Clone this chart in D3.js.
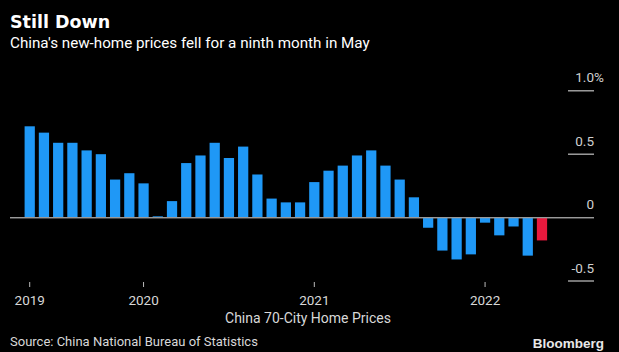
<!DOCTYPE html>
<html>
<head>
  <meta charset="utf-8" />
  <title>Still Down</title>
  <style type="text/css">
  body {
    margin: 0;
    background: #000;
  }
  svg text {
    font-family: 'Roboto', sans-serif;
  }
  </style>
</head>
<body>

  <div id="graph"></div>

  <script src="https://cdn.jsdelivr.net/npm/d3@7"></script>
  <script>
// monthly change in new-home prices, May 2019 - May 2022
var months = [
  "2019-05", "2019-06", "2019-07", "2019-08", "2019-09", "2019-10", "2019-11", "2019-12",
  "2020-01", "2020-02", "2020-03", "2020-04", "2020-05", "2020-06", "2020-07", "2020-08",
  "2020-09", "2020-10", "2020-11", "2020-12",
  "2021-01", "2021-02", "2021-03", "2021-04", "2021-05", "2021-06", "2021-07", "2021-08",
  "2021-09", "2021-10", "2021-11", "2021-12",
  "2022-01", "2022-02", "2022-03", "2022-04", "2022-05"
];
var values = [
  0.72, 0.67, 0.59, 0.59, 0.53, 0.50, 0.30, 0.35,
  0.27, 0.01, 0.13, 0.43, 0.49, 0.59, 0.47, 0.56,
  0.34, 0.15, 0.12, 0.12,
  0.28, 0.37, 0.41, 0.49, 0.53, 0.41, 0.30, 0.16,
  -0.08, -0.26, -0.33, -0.29,
  -0.04, -0.14, -0.07, -0.30, -0.18
];
var yearTicks = ["2019-05", "2020-01", "2021-01", "2022-01"];
var yearLabels = ["2019", "2020", "2021", "2022"];
var yTicks = [1.0, 0.5, 0, -0.5];
var yLabels = ["1.0", "0.5", "0", "-0.5"];

var width = 619, height = 352;

var svg = d3.select("#graph").append("svg")
    .attr("width", width)
    .attr("height", height)
    .style("display", "block")
    .style("background", "#000");

var x = d3.scaleBand()
    .domain(months)
    .range([22.6, 549.1])
    .paddingInner(0.28)
    .paddingOuter(0.14);

var y = d3.scaleLinear()
    .domain([-0.5, 1.0])
    .range([281, 90.8]);

// title + subtitle
svg.append("text")
    .attr("x", 10).attr("y", 27.5)
    .style("font-family", "'DejaVu Sans', sans-serif")
    .style("font-weight", "bold")
    .style("font-size", "17.5px")
    .attr("fill", "#fff")
    .text("Still Down");

svg.append("text")
    .attr("x", 10).attr("y", 47.5)
    .style("font-size", "15.2px")
    .attr("fill", "#fff")
    .text("China's new-home prices fell for a ninth month in May");

// short gridlines on the right
var grid = svg.append("g");
grid.selectAll("line")
    .data(yTicks)
  .enter().append("line")
    .attr("x1", function(d) { return d === 0 ? 10 : 568; })
    .attr("x2", 594)
    .attr("y1", function(d) { return y(d); })
    .attr("y2", function(d) { return y(d); })
    .attr("stroke", function(d) { return d === 0 ? "#9a9a9a" : "#b5b5b5"; })
    .attr("stroke-width", 1.3);

grid.selectAll("text.ylab")
    .data(yTicks)
  .enter().append("text")
    .attr("class", "ylab")
    .attr("x", 594)
    .attr("y", function(d) { return y(d) - 8.5; })
    .attr("text-anchor", "end")
    .style("font-size", "13.5px")
    .attr("fill", "#d0d0d0")
    .text(function(d, i) { return yLabels[i]; });

grid.append("text")
    .attr("x", 594)
    .attr("y", y(1.0) - 8.5)
    .style("font-size", "13.5px")
    .attr("fill", "#d0d0d0")
    .text("%");

// bars
svg.append("g").selectAll("rect")
    .data(values)
  .enter().append("rect")
    .attr("x", function(d, i) { return x(months[i]); })
    .attr("width", x.bandwidth())
    .attr("y", function(d) { return y(Math.max(0, d)); })
    .attr("height", function(d) { return Math.abs(y(d) - y(0)); })
    .attr("fill", function(d, i) { return i === values.length - 1 ? "#e8193d" : "#1f98f6"; });

// redraw zero line over the bars
svg.append("line")
    .attr("x1", 10).attr("x2", 594)
    .attr("y1", y(0)).attr("y2", y(0))
    .attr("stroke", "#9a9a9a")
    .attr("stroke-width", 1.3);

// x axis
var xAxis = svg.append("g")
    .attr("transform", "translate(0,282)")
    .call(d3.axisBottom(x)
      .tickValues(yearTicks)
      .tickFormat(function(d) { return yearLabels[yearTicks.indexOf(d)]; })
      .tickSize(5)
      .tickPadding(8));
xAxis.select(".domain").remove();
xAxis.selectAll("line").attr("stroke", "#bbb");
xAxis.selectAll("text")
    .style("font-family", "'Roboto', sans-serif")
    .style("font-size", "13.5px")
    .attr("fill", "#d8d8d8");

svg.append("text")
    .attr("x", 308).attr("y", 323)
    .attr("text-anchor", "middle")
    .style("font-size", "14px")
    .attr("fill", "#d8d8d8")
    .text("China 70-City Home Prices");

svg.append("text")
    .attr("x", 10).attr("y", 346)
    .style("font-size", "13px")
    .attr("fill", "#d8d8d8")
    .text("Source: China National Bureau of Statistics");

svg.append("text")
    .attr("x", 604).attr("y", 347.5)
    .attr("text-anchor", "end")
    .style("font-family", "'Liberation Sans', sans-serif")
    .style("font-weight", "bold")
    .style("font-size", "13.5px")
    .attr("fill", "#e8e8e8")
    .text("Bloomberg");
</script>
</body>
</html>
